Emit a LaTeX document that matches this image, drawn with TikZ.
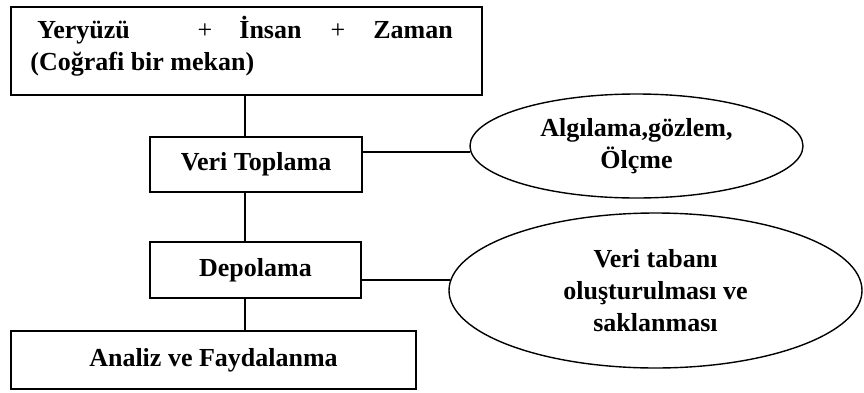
\documentclass[tikz,border=0pt]{standalone}
\usepackage{fontspec}
\setmainfont{Liberation Serif}
\usetikzlibrary{positioning, shapes.geometric}
\tikzset{
  box/.style={draw, line width=1pt, inner sep=0, align=center,
    font=\fontsize{13}{16}\selectfont\bfseries},
  oval/.style={draw, ellipse, line width=0.7pt, inner sep=0, align=center,
    font=\fontsize{13}{16}\selectfont\bfseries},
  txt/.style={inner sep=0, anchor=base west,
    font=\fontsize{13}{16}\selectfont\bfseries},
  plus/.style={inner sep=0, anchor=base,
    font=\fontsize{13}{16}\selectfont},
  link/.style={line width=0.8pt}
}

\begin{document}
\begin{tikzpicture}[x=0.5pt, y=-0.5pt]
\useasboundingbox (0,0) rectangle (864,392);

% left column
\node [box, minimum width=235.5pt, minimum height=44pt] (top) at (246.5,51) {};
\node [txt] (yer) at (37,38) {Yeryüzü};
\node [plus] (p1) at (205,38) {+};
\node [txt] (ins) at (239,38) {İnsan};
\node [plus] (p2) at (338,38) {+};
\node [txt] (zam) at (373,38) {Zaman};
\node [txt] (mek) at (30,70) {(Coğrafi bir mekan)};

\node [box, minimum width=106pt, minimum height=27.5pt] (vt) at (256,164.5) {Veri Toplama};
\node [box, minimum width=105.5pt, minimum height=28pt] (dep) at (255.5,270) {Depolama};
\node [box, minimum width=202.5pt, minimum height=29pt] (an) at (213.5,360) {Analiz ve Faydalanma};

% right column
\node [oval, minimum width=166.5pt, minimum height=52pt] (ell1) at (636.5,146) {Algılama,gözlem,\\Ölçme};
\node [oval, minimum width=206.5pt, minimum height=77.5pt] (ell2) at (655.5,290.5) {Veri tabanı\\oluşturulması ve\\saklanması};

\coordinate (trunk) at (245,0);
\draw [link] (top.south -| trunk) -- (vt.north -| trunk);
\draw [link] (vt.south -| trunk) -- (dep.north -| trunk);
\draw [link] (dep.south -| trunk) -- (an.north -| trunk);

\draw [link] (vt.east |- ell1.182) -- (ell1.182);
\draw [link] (dep.east |- ell2.177) -- (ell2.177);

\end{tikzpicture}
\end{document}
